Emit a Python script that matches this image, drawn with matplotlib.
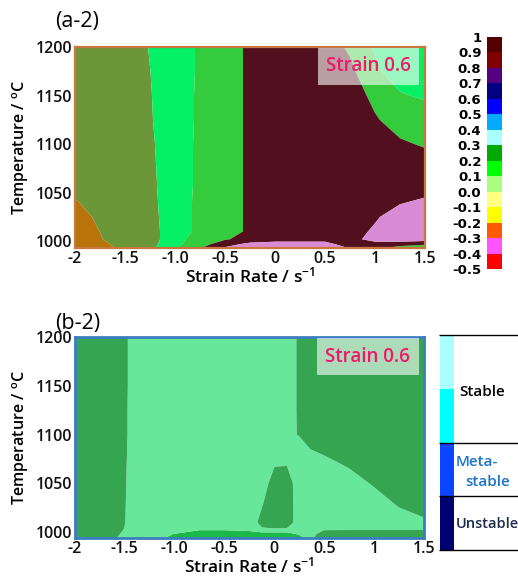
import matplotlib
matplotlib.use('Agg')
import matplotlib.pyplot as plt
import numpy as np
from matplotlib.colors import ListedColormap, BoundaryNorm
from matplotlib.cm import ScalarMappable

plt.rcParams['font.family'] = ['Open Sans', 'DejaVu Sans']
plt.rcParams['mathtext.fontset'] = 'custom'
plt.rcParams['mathtext.rm'] = 'Open Sans:semibold'
plt.rcParams['mathtext.it'] = 'Open Sans:semibold'
plt.rcParams['mathtext.bf'] = 'Open Sans:bold'

# ---------------- data: (a-2) power dissipation map, zone field ----------------
strain_rate_a = [-2.0, -1.75, -1.5, -1.25, -1.0, -0.75, -0.5, -0.25, 0.0, 0.25, 0.5, 0.75, 1.0, 1.25, 1.5]
temperature_a = [993, 997, 1002, 1010, 1025, 1040, 1060, 1080, 1100, 1125, 1150, 1175, 1200]
zone_a_993 = [0, 0, 0.833, 1.275, 2.4, 3.45, 4.6, 5, 5, 5, 5, 4.45, 3.8, 3, 3]
zone_a_997 = [0, 0, 1.25, 1.124, 2.3, 3.014, 4.119, 4.754, 5, 5, 5, 3.75, 4, 4, 3.6]
zone_a_1002 = [0, 0.4, 1.233, 1.167, 2, 3.136, 3.4, 3.9, 4, 4, 4, 4.04, 5, 5, 5]
zone_a_1010 = [0, 0.51, 1, 1.167, 2, 2.735, 3, 3.694, 4, 4, 4, 4.147, 4.637, 5, 5]
zone_a_1025 = [0, 0.735, 1, 1.219, 2, 2.735, 3, 3.694, 4, 4, 4, 4, 4.395, 4.92, 5]
zone_a_1040 = [0.4, 1, 1, 1.265, 2, 2.735, 3, 3.694, 4, 4, 4, 4, 4, 4.435, 4.667]
zone_a_1060 = [1, 1, 1, 1.306, 2, 2.694, 3, 3.694, 4, 4, 4, 4, 4, 4, 4]
zone_a_1080 = [1, 1, 1, 1.342, 2, 2.694, 3, 3.694, 4, 4, 4, 4, 4, 4, 3.9]
zone_a_1100 = [1, 1, 1, 1.375, 2, 2.694, 3, 3.694, 4, 4, 4, 4, 4, 3.637, 3.4]
zone_a_1125 = [1, 1, 1, 1.432, 2, 2.658, 3, 3.694, 4, 4, 4, 4, 3.6, 3.068, 3.1]
zone_a_1150 = [1, 1, 1, 1.457, 2, 2.658, 3, 3.694, 4, 4, 4, 4, 3.247, 2.6, 2.35]
zone_a_1175 = [1, 1, 1, 1.49, 2, 2.625, 3, 3.694, 4, 4, 4, 3.727, 2.694, 2, 2]
zone_a_1200 = [1, 1, 1, 1.543, 2, 2.625, 3, 3.694, 4, 4, 4, 3.34, 2.39, 2, 2]
zone_a_levels = [-0.5, 0.5, 1.5, 2.5, 3.5, 4.5, 5.5]
zone_a_colors = ['#b8740a', '#6b9738', '#05f064', '#34cb3c', '#52101e', '#da8bd6']

# colorbar of (a-2)
cbar_levels = [-0.5, -0.4, -0.3, -0.2, -0.1, 0.0, 0.1, 0.2, 0.3, 0.4, 0.5, 0.6, 0.7, 0.8, 0.9, 1.0]
cbar_labels = ['-0.5', '-0.4', '-0.3', '-0.2', '-0.1', '0.0', '0.1', '0.2', '0.3', '0.4',
               '0.5', '0.6', '0.7', '0.8', '0.9', '1']
cbar_colors = ['#ff0000', '#ff55ff', '#ff5a00', '#ffff00', '#ffff80', '#aaff80', '#00ff00',
               '#00aa00', '#aaffff', '#00aaff', '#0000ff', '#000080', '#550080', '#800000', '#550000']

# ---------------- data: (b-2) instability map, zone field ----------------
strain_rate_b = [-2.0, -1.75, -1.5, -1.25, -1.0, -0.75, -0.5, -0.25, -0.125, 0.0, 0.125, 0.25, 0.5, 0.75, 1.0, 1.25, 1.5]
temperature_b = [994, 998, 1003, 1010, 1030, 1050, 1070, 1085, 1100, 1125, 1150, 1175, 1200]
zone_b_994 = [2, 2, 1.265, 1, 0.167, 0, 0, 0, 0, 0, 0, 0, 2.5, 2, 2, 2, 2]
zone_b_998 = [2, 2, 1.375, 1, 0.457, 0, 0, 0, 0, 0, 0, 0.658, 1.896, 2, 2, 2, 2]
zone_b_1003 = [2, 2, 1.479, 1, 1, 0.625, 0.625, 0.8, 1.4, 1.4, 1.4, 1.3, 1.401, 1.4, 1.4, 1.4, 1.4]
zone_b_1010 = [2, 2, 1.51, 1, 1, 1, 1, 1, 1.8, 2.2, 2.04, 1, 1, 1, 1, 1, 1.3]
zone_b_1030 = [2, 2, 1.52, 1, 1, 1, 1, 1, 1.405, 2.2, 2.04, 1, 1, 1, 1, 1.658, 2.1]
zone_b_1050 = [2, 2, 1.53, 1, 1, 1, 1, 1, 1, 1.96, 1.96, 1, 1, 1, 1.625, 2, 2]
zone_b_1070 = [2, 2, 1.54, 1, 1, 1, 1, 1, 1, 1.419, 1.449, 1, 1.2, 1.658, 2, 2, 2]
zone_b_1085 = [2, 2, 1.55, 1, 1, 1, 1, 1, 1, 1, 1, 1.32, 1.729, 2, 2, 2, 2]
zone_b_1100 = [2, 2, 1.56, 1, 1, 1, 1, 1, 1, 1, 1.39, 1.528, 2, 2, 2, 2, 2]
zone_b_1125 = [2, 2, 1.56, 1, 1, 1, 1, 1, 1, 1, 1, 1.658, 2, 2, 2, 2, 2]
zone_b_1150 = [2, 2, 1.568, 1, 1, 1, 1, 1, 1, 1, 1, 1.658, 2, 2, 2, 2, 2]
zone_b_1175 = [2, 2, 1.568, 1, 1, 1, 1, 1, 1, 1, 1, 1.658, 2, 2, 2, 2, 2]
zone_b_1200 = [2, 2, 1.568, 1, 1, 1, 1, 1, 1, 1, 1, 1.658, 2, 2, 2, 2, 2]
zone_b_levels = [-0.5, 0.5, 1.5, 2.6]
zone_b_colors = ['#1db84a', '#68e69a', '#35a552']

# legend of (b-2)
legend_bands = ['Unstable', 'Meta-stable', 'Stable', 'Stable']
legend_band_colors = ['#000070', '#0a46ff', '#00ffff', '#aaffff']
legend_band_size = [1, 1, 1, 1]

# axes ticks
x_ticks = [-2, -1.5, -1.0, -0.5, 0, 0.5, 1, 1.5]
x_tick_labels = ['-2', '-1.5', '-1.0', '-0.5', '0', '0.5', '1', '1.5']
y_ticks = [1000, 1050, 1100, 1150, 1200]
y_tick_labels = ['1000', '1050', '1100', '1150', '1200']

Z_a = np.array([zone_a_993, zone_a_997, zone_a_1002, zone_a_1010, zone_a_1025, zone_a_1040,
                zone_a_1060, zone_a_1080, zone_a_1100, zone_a_1125, zone_a_1150, zone_a_1175,
                zone_a_1200])
Z_b = np.array([zone_b_994, zone_b_998, zone_b_1003, zone_b_1010, zone_b_1030, zone_b_1050,
                zone_b_1070, zone_b_1085, zone_b_1100, zone_b_1125, zone_b_1150, zone_b_1175,
                zone_b_1200])

W, H = 518, 578
fig = plt.figure(figsize=(W / 100, H / 100), dpi=100)

ax1 = fig.add_axes([75 / W, 1 - 248 / H, 350 / W, 201 / H])
ax2 = fig.add_axes([75 / W, 1 - 538 / H, 349 / W, 201 / H])
cax = fig.add_axes([487 / W, 1 - 269 / H, 15 / W, 232 / H])
lax = fig.add_axes([439 / W, 1 - 550 / H, 79 / W, 215 / H])

ax1.contourf(strain_rate_a, temperature_a, Z_a, levels=zone_a_levels, colors=zone_a_colors,
             antialiased=True)
ax2.contourf(strain_rate_b, temperature_b, Z_b, levels=zone_b_levels, colors=zone_b_colors,
             antialiased=True)

tick_fs = 11.5
for ax, ymin, spine_col, spine_w in [(ax1, 993, '#c8783c', 1.6), (ax2, 994, '#3c7dc0', 2.0)]:
    ax.set_xlim(-2, 1.5)
    ax.set_ylim(ymin, 1200)
    ax.set_xticks(x_ticks)
    ax.set_xticklabels(x_tick_labels, fontweight='semibold')
    ax.set_yticks(y_ticks)
    ax.set_yticklabels(y_tick_labels, fontweight='semibold')
    ax.tick_params(length=0, labelsize=tick_fs, pad=2, colors='#111111')
    ax.set_xlabel('Strain Rate / s$^{\\mathregular{-1}}$', fontsize=12.5, labelpad=0,
                  fontweight='semibold')
    ax.set_ylabel('Temperature / $^{\\mathregular{o}}$C', fontsize=11.5, labelpad=3,
                  fontweight='semibold')
    for sp in ax.spines.values():
        sp.set_color(spine_col)
        sp.set_linewidth(spine_w)
    ax.text(0.935, 1180, 'Strain 0.6', ha='center', va='center', color='#f0186a',
            fontsize=13.5, fontweight='semibold',
            bbox=dict(boxstyle='square,pad=0.45', fc='white', ec='none', alpha=0.6))

fig.text(55 / W, 1 - 21 / H, '(a-2)', ha='left', va='center', fontsize=15.5)
fig.text(55 / W, 1 - 323 / H, '(b-2)', ha='left', va='center', fontsize=15.5)

# colorbar (a-2)
sm = ScalarMappable(norm=BoundaryNorm(cbar_levels, len(cbar_colors)), cmap=ListedColormap(cbar_colors))
cb = fig.colorbar(sm, cax=cax, ticks=cbar_levels)
cb.outline.set_visible(False)
cax.yaxis.set_ticks_position('left')
cax.yaxis.set_label_position('left')
cax.set_yticklabels(cbar_labels)
cax.tick_params(length=0, pad=4)
for t in cax.get_yticklabels():
    t.set_fontfamily('DejaVu Sans')
    t.set_fontweight('bold')
    t.set_fontsize(9.5)

# legend (b-2)
bottoms = np.concatenate([[0], np.cumsum(legend_band_size)[:-1]])
lax.bar(1 / 79, legend_band_size, bottom=bottoms, width=14 / 79, align='edge',
        color=legend_band_colors, edgecolor='none')
total = float(np.sum(legend_band_size))
lax.set_xlim(0, 1)
lax.set_ylim(0, total)
edges = [0, 1, 2, total]
lax.hlines(edges, 0, 1, colors='black', linewidth=1.0, clip_on=False)
lax.axis('off')
lax.text(0.544, 2.94, 'Stable', ha='center', va='center', fontsize=11, color='black',
         fontweight='semibold')
lax.text(0.48, 1.64, 'Meta-', ha='center', va='center', fontsize=11, color='#1e72c8',
         fontweight='semibold')
lax.text(0.61, 1.27, 'stable', ha='center', va='center', fontsize=11, color='#1e72c8',
         fontweight='semibold')
lax.text(0.61, 0.48, 'Unstable', ha='center', va='center', fontsize=10.5, color='#1c2c4c',
         fontweight='semibold')

fig.savefig('out.png', dpi=100)
